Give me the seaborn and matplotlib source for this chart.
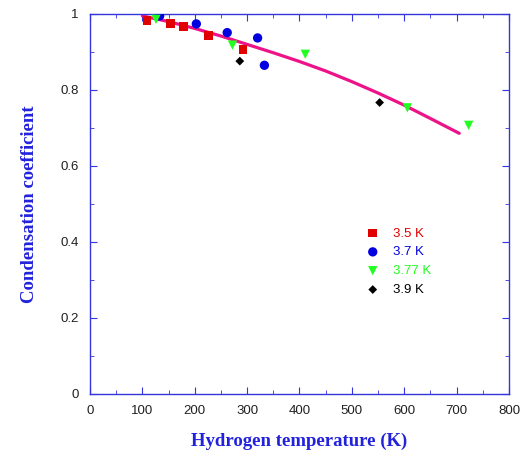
import pandas as pd
import seaborn as sns
import matplotlib.pyplot as plt
from matplotlib.ticker import MultipleLocator

t_35 = [109, 154, 179, 226, 292]
c_35 = [0.982, 0.974, 0.967, 0.944, 0.907]
t_37 = [133, 203, 262, 320, 333]
c_37 = [0.995, 0.974, 0.951, 0.937, 0.865]
t_377 = [126, 272, 411, 606, 723]
c_377 = [0.986, 0.918, 0.894, 0.753, 0.707]
t_39 = [286, 553]
c_39 = [0.876, 0.767]

# model curve
t_fit = [100, 150, 200, 250, 300, 350, 400, 450, 500, 550, 600, 650, 705]
c_fit = [0.995, 0.98, 0.962, 0.942, 0.92, 0.898, 0.875, 0.85, 0.822, 0.792, 0.76, 0.725, 0.686]

sns.set_style("ticks")
plt.rcParams['font.family'] = ['Liberation Sans', 'DejaVu Sans']

blue = "#3434dc"
fig = plt.figure(figsize=(5.27, 4.62), dpi=100)
ax = fig.add_axes([0.1708, 0.1472, 0.7950, 0.8225])

sns.lineplot(x=t_fit, y=c_fit, color="#ee1289", lw=2.3, ax=ax, zorder=2)

series = [
    ("3.5 K", t_35, c_35, "s", "#e00000", 40),
    ("3.7 K", t_37, c_37, "o", "#0000e0", 45),
    ("3.77 K", t_377, c_377, "v", "#20ff20", 45),
    ("3.9 K", t_39, c_39, "D", "#000000", 20),
]
for lab, t, c, m, col, s in series:
    df = pd.DataFrame({"t": t, "c": c})
    sns.scatterplot(data=df, x="t", y="c", marker=m, color=col, s=s,
                    edgecolor="none", label=lab, ax=ax, zorder=3)

leg = ax.legend(loc="upper left", bbox_to_anchor=(0.615, 0.47), frameon=False,
                fontsize=9.5, handletextpad=0.5, labelspacing=0.5)
for txt, (_, _, _, _, col, _) in zip(leg.get_texts(), series):
    txt.set_color(col)

ax.set_xlim(0, 800)
ax.set_ylim(0, 1)
ax.xaxis.set_major_locator(MultipleLocator(100))
ax.xaxis.set_minor_locator(MultipleLocator(50))
ax.yaxis.set_major_locator(MultipleLocator(0.2))
ax.yaxis.set_minor_locator(MultipleLocator(0.1))
ax.yaxis.set_major_formatter(plt.FuncFormatter(lambda v, p: f"{v:g}"))
ax.tick_params(which="both", direction="in", top=True, right=True,
               color=blue, labelsize=9.5, labelcolor="#202020", pad=8)
ax.tick_params(which="major", length=5)
ax.tick_params(which="minor", length=3)
for sp in ax.spines.values():
    sp.set_color(blue)
    sp.set_linewidth(1.0)

lab_font = dict(family="Liberation Serif", fontweight="bold", fontsize=13.5, color="#2222dd")
ax.set_xlabel("Hydrogen temperature (K)", labelpad=11, **lab_font)
ax.set_ylabel("Condensation coefficient", labelpad=16, **lab_font)

fig.savefig("out.png", dpi=100)
